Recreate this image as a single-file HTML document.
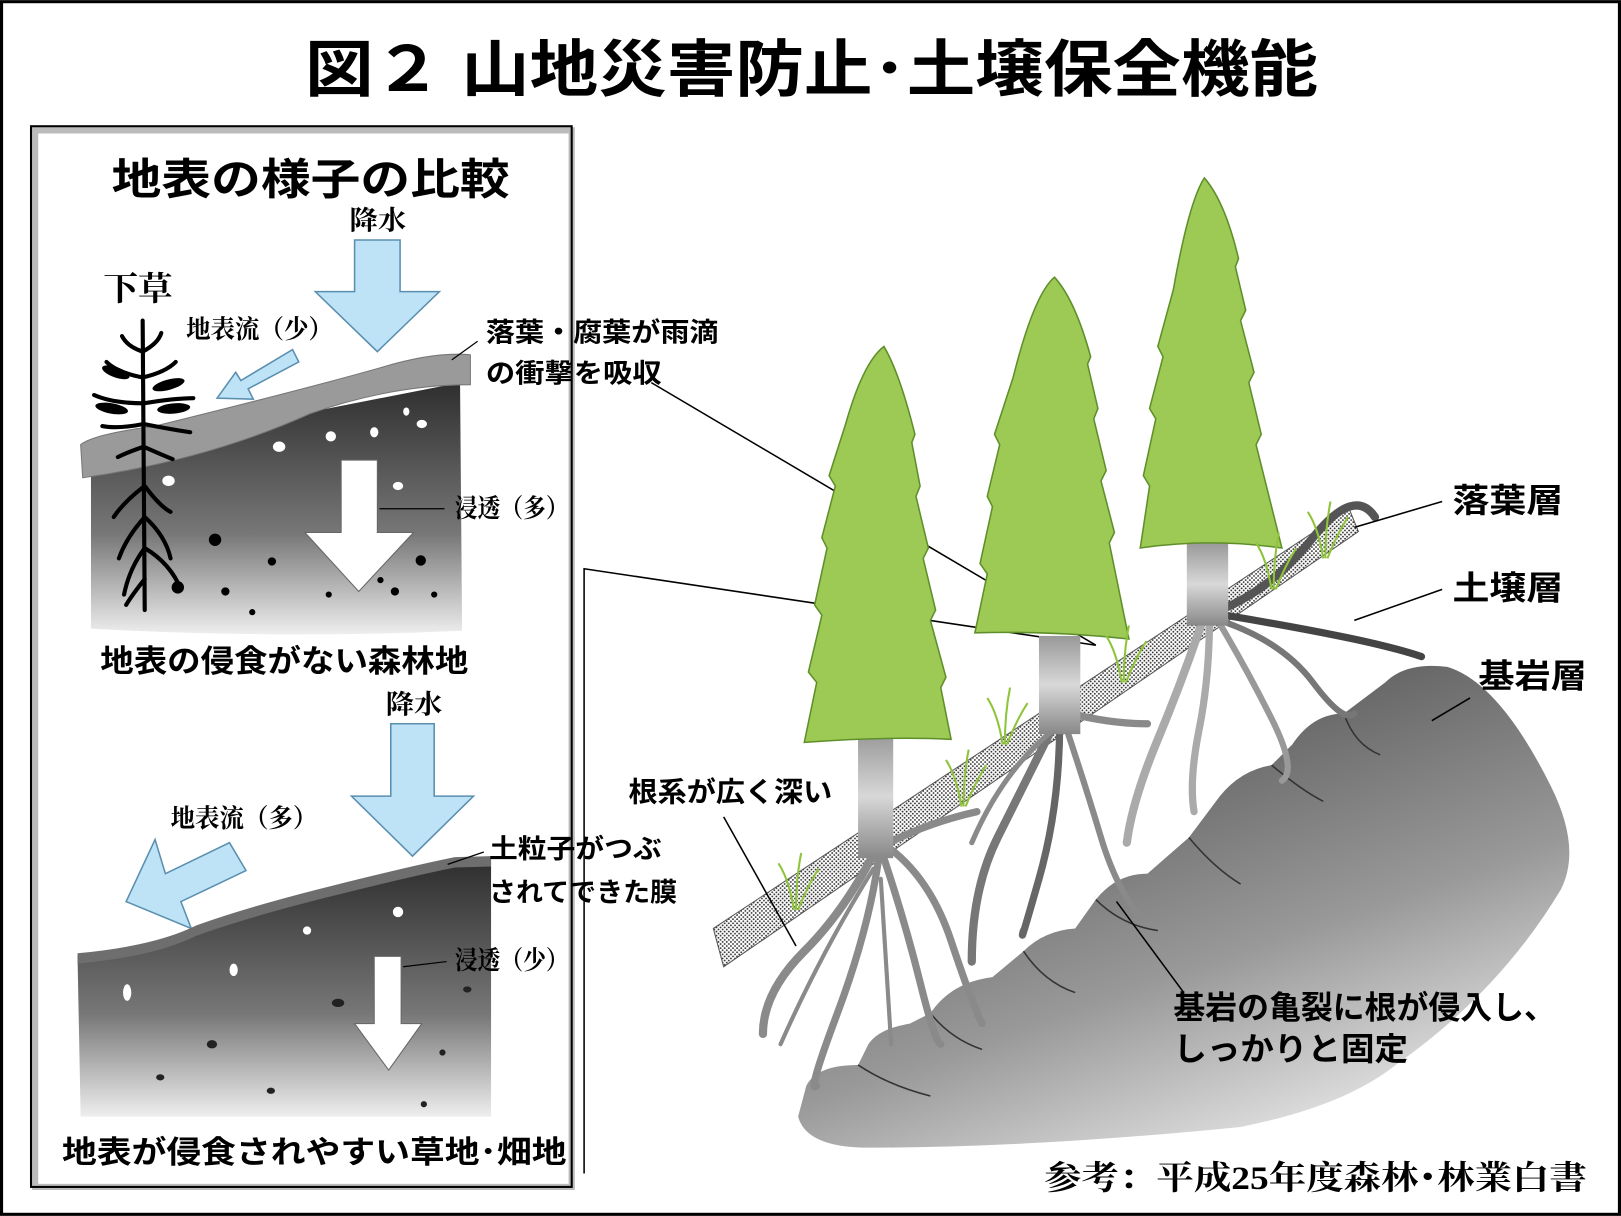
<!DOCTYPE html>
<html><head><meta charset="utf-8"><style>
html,body{margin:0;padding:0;background:#fff;}
svg{display:block;}
.g{font-family:"Liberation Sans","Noto Sans CJK JP",sans-serif;font-weight:bold;}
.m{font-family:"Liberation Serif","Noto Serif CJK SC",serif;font-weight:bold;}
</style></head><body>
<svg width="1621" height="1216" viewBox="0 0 1568 1176" xmlns="http://www.w3.org/2000/svg">
<defs>
<linearGradient id="soil" x1="0" y1="0" x2="0" y2="1"><stop offset="0" stop-color="#2e2e2e"/><stop offset="0.6" stop-color="#777"/><stop offset="1" stop-color="#eee"/></linearGradient>
<linearGradient id="rock" x1="0.3" y1="0.1" x2="0.8" y2="1"><stop offset="0" stop-color="#555"/><stop offset="0.55" stop-color="#999"/><stop offset="1" stop-color="#f4f4f4"/></linearGradient>
<linearGradient id="trunk" x1="0" y1="0" x2="0" y2="1"><stop offset="0" stop-color="#999"/><stop offset="0.5" stop-color="#d8d8d8"/><stop offset="1" stop-color="#888"/></linearGradient>
<pattern id="dots" width="4" height="4" patternUnits="userSpaceOnUse"><rect width="4" height="4" fill="#fff"/><circle cx="1" cy="1" r="0.9" fill="#333"/><circle cx="3" cy="3" r="0.9" fill="#333"/></pattern>
</defs>
<rect x="1.5" y="1.5" width="1565" height="1173" fill="#fff" stroke="#000" stroke-width="3"/>
<text x="295" y="88" class="g" font-size="60" textLength="980" lengthAdjust="spacingAndGlyphs">図２ 山地災害防止･土壌保全機能</text>

<!-- left panel -->
<rect x="34" y="126" width="519" height="1022" fill="none" stroke="#bbb" stroke-width="6"/>
<rect x="30" y="122" width="523" height="1026" fill="none" stroke="#000" stroke-width="2"/>
<text x="108" y="188" class="g" font-size="42" textLength="385" lengthAdjust="spacingAndGlyphs">地表の様子の比較</text>
<text x="338" y="222" class="m" font-size="26" textLength="55" lengthAdjust="spacingAndGlyphs">降水</text>
<polygon points="343,232 387,232 387,282 425,282 365,340 305,282 343,282" fill="#bfe3f6" stroke="#5a8fb0" stroke-width="1.5"/>
<text x="100" y="290" class="m" font-size="32" textLength="67" lengthAdjust="spacingAndGlyphs">下草</text>
<text x="180" y="327" class="m" font-size="25" textLength="142" lengthAdjust="spacingAndGlyphs">地表流（少）</text>
<polygon points="283,338 289,350 240,376 245,386 210,385 228,360 233,368" fill="#bfe3f6" stroke="#5a8fb0" stroke-width="1.5"/>
<!-- forest ground -->
<path d="M88,440 L445,370 L447,610 Q270,618 88,608 Z" fill="url(#soil)"/>
<path d="M78,430 Q90,420 150,412 Q300,375 370,355 Q420,340 455,343 L455,372 Q380,372 300,400 Q200,445 80,462 Z" fill="#9a9a9a" stroke="#777"/>
<g fill="#fff"><ellipse cx="270" cy="432" rx="6" ry="5"/><ellipse cx="320" cy="422" rx="5" ry="5"/><ellipse cx="362" cy="418" rx="4" ry="5"/><ellipse cx="408" cy="410" rx="5" ry="4"/><ellipse cx="393" cy="398" rx="3" ry="4"/><ellipse cx="385" cy="470" rx="5" ry="4"/><ellipse cx="163" cy="465" rx="6" ry="5"/></g>
<g fill="#000"><circle cx="208" cy="522" r="6"/><circle cx="263" cy="543" r="4"/><circle cx="218" cy="572" r="4"/><circle cx="407" cy="542" r="5"/><circle cx="368" cy="561" r="3"/><circle cx="382" cy="572" r="4"/><circle cx="318" cy="575" r="3"/><circle cx="244" cy="592" r="3"/><circle cx="420" cy="575" r="3"/><circle cx="172" cy="568" r="6"/></g>
<polygon points="330,445 365,445 365,515 400,515 347,572 295,515 330,515" fill="#fff" stroke="#666" stroke-width="1"/>
<line x1="367" y1="492" x2="430" y2="492" stroke="#000" stroke-width="1.2"/>
<text x="440" y="500" class="m" font-size="25" textLength="110" lengthAdjust="spacingAndGlyphs">浸透（多）</text>
<!-- plant -->
<g stroke="#000" fill="none" stroke-width="4" stroke-linecap="round">
<path d="M138,310 L140,590"/>
<path d="M138,340 q-15,-5 -20,-15 M138,340 q15,-8 18,-18 M138,365 q-25,-5 -35,-15 M138,365 q22,-5 32,-15 M139,390 q-30,0 -48,-8 M139,390 q30,-5 48,-5 M139,410 q-25,5 -40,2 M139,410 q25,5 45,8 M139,432 q-15,5 -25,10 M139,432 q18,8 28,12"/>
<path d="M140,470 q-20,15 -30,30 M140,470 q15,20 25,25 M140,500 q-18,20 -25,40 M140,500 q20,18 25,40 M140,530 q-15,20 -20,45 M140,530 q25,15 35,40 M140,560 q-12,15 -18,25"/>
</g>
<g fill="#000"><ellipse cx="112" cy="360" rx="14" ry="5" transform="rotate(20 112 360)"/><ellipse cx="163" cy="372" rx="16" ry="5" transform="rotate(-15 163 372)"/><ellipse cx="108" cy="395" rx="16" ry="5" transform="rotate(10 108 395)"/><ellipse cx="168" cy="395" rx="16" ry="5" transform="rotate(-5 168 395)"/></g>
<text x="97" y="650" class="g" font-size="30" textLength="356" lengthAdjust="spacingAndGlyphs">地表の侵食がない森林地</text>
<text x="470" y="330" class="g" font-size="26" textLength="225" lengthAdjust="spacingAndGlyphs">落葉・腐葉が雨滴</text>
<text x="470" y="370" class="g" font-size="26" textLength="170" lengthAdjust="spacingAndGlyphs">の衝撃を吸収</text>
<line x1="437" y1="348" x2="462" y2="330" stroke="#000" stroke-width="1.2"/>
<!-- grass land -->
<text x="373" y="690" class="m" font-size="26" textLength="55" lengthAdjust="spacingAndGlyphs">降水</text>
<polygon points="378,700 420,700 420,770 458,770 399,828 340,770 378,770" fill="#bfe3f6" stroke="#5a8fb0" stroke-width="1.5"/>
<text x="165" y="800" class="m" font-size="25" textLength="142" lengthAdjust="spacingAndGlyphs">地表流（多）</text>
<polygon points="238,842 222,815 160,845 150,812 122,872 185,898 175,872" fill="#bfe3f6" stroke="#5a8fb0" stroke-width="1.5"/>
<path d="M75,925 Q150,918 190,898 Q240,880 320,860 Q400,840 440,832 L475,832 L475,1080 L78,1080 Z" fill="url(#soil)"/>
<path d="M75,922 Q150,915 190,895 Q240,877 320,857 Q400,837 440,829 L475,828 L475,838 L440,839 Q400,847 320,867 Q240,887 190,905 Q150,925 75,932 Z" fill="#6e6e6e"/>
<g fill="#fff"><ellipse cx="385" cy="882" rx="5" ry="5"/><ellipse cx="297" cy="900" rx="4" ry="4"/><ellipse cx="226" cy="938" rx="4" ry="6"/><ellipse cx="123" cy="960" rx="4" ry="8"/></g>
<g fill="#222"><ellipse cx="327" cy="970" rx="6" ry="4"/><ellipse cx="452" cy="957" rx="4" ry="3"/><ellipse cx="205" cy="1010" rx="5" ry="4"/><ellipse cx="155" cy="1042" rx="4" ry="3"/><ellipse cx="262" cy="1055" rx="4" ry="3"/><ellipse cx="428" cy="1018" rx="3" ry="3"/><ellipse cx="410" cy="1068" rx="3" ry="3"/></g>
<polygon points="362,925 388,925 388,990 408,990 376,1035 343,990 362,990" fill="#fff" stroke="#666" stroke-width="1"/>
<line x1="390" y1="935" x2="432" y2="930" stroke="#000" stroke-width="1.2"/>
<text x="440" y="937" class="m" font-size="25" textLength="110" lengthAdjust="spacingAndGlyphs">浸透（少）</text>
<text x="473" y="830" class="g" font-size="26" textLength="167" lengthAdjust="spacingAndGlyphs">土粒子がつぶ</text>
<text x="473" y="872" class="g" font-size="26" textLength="182" lengthAdjust="spacingAndGlyphs">されてできた膜</text>
<line x1="433" y1="836" x2="468" y2="824" stroke="#000" stroke-width="1.2"/>
<text x="60" y="1125" class="g" font-size="30" textLength="488" lengthAdjust="spacingAndGlyphs">地表が侵食されやすい草地･畑地</text>

<!-- connector lines -->
<polyline points="565,1135 565,550 1060,624" fill="none" stroke="#000" stroke-width="1.5"/>
<line x1="630" y1="370" x2="1060" y2="624" stroke="#000" stroke-width="1.5"/>

<!-- right: bedrock -->
<path d="M780,1050 Q790,1030 830,1030 L840,1010 Q850,995 880,990 L900,980 Q920,950 960,945 L990,920 Q1010,900 1040,898 L1060,870 Q1080,845 1110,845 L1150,810 L1180,770 Q1200,745 1230,740 L1250,720 Q1270,690 1300,690 L1340,660 Q1360,640 1400,645 Q1450,660 1500,760 Q1530,820 1510,860 Q1450,960 1350,1030 Q1300,1070 1200,1090 Q1000,1110 840,1110 Q780,1110 772,1080 Z" fill="url(#rock)"/>
<g stroke="#333" fill="none" stroke-width="1.5"><path d="M830,1030 q30,20 70,30"/><path d="M900,980 q20,25 50,35"/><path d="M990,920 q20,30 50,40"/><path d="M1060,870 q25,25 60,30"/><path d="M1150,810 q25,30 50,45"/><path d="M1230,740 q30,25 50,35"/><path d="M1300,690 q10,30 35,40"/></g>
<!-- litter band -->
<path d="M690,898 L1305,492 L1314,514 L700,935 Z" fill="url(#dots)" stroke="#555" stroke-width="1"/>
<!-- roots -->
<g stroke="#8a8a8a" fill="none" stroke-linecap="round">
<path d="M848,820 q-30,60 -70,100 t-40,80" stroke-width="8"/><path d="M850,830 q-10,70 -40,150 t-20,70" stroke-width="7"/><path d="M855,830 q20,60 35,120 t20,60" stroke-width="7"/><path d="M860,820 q40,30 60,90 t30,80" stroke-width="7"/><path d="M860,815 q40,-20 85,-30" stroke-width="7"/><path d="M845,840 q-50,80 -90,170" stroke-width="4"/><path d="M852,850 q5,80 10,160" stroke-width="4"/>
<path d="M1020,700 q-30,60 -55,110 t-25,120" stroke-width="8" stroke="#777"/><path d="M1025,700 q0,80 -20,150 t-15,50" stroke-width="7" stroke="#666"/><path d="M1030,700 q20,60 35,110 t40,80" stroke-width="6"/><path d="M1035,690 q40,10 75,10" stroke-width="7"/><path d="M1020,705 q-50,40 -80,110" stroke-width="5"/>
<path d="M1165,595 q-20,60 -45,120 t-30,100" stroke-width="8" stroke="#aaa"/><path d="M1170,595 q0,60 -10,110 t-5,80" stroke-width="7" stroke="#aaa"/><path d="M1175,595 q30,50 55,100 t10,60" stroke-width="6" stroke="#999"/><path d="M1180,590 q50,-20 90,-70 t60,-20" stroke-width="8" stroke="#555"/><path d="M1185,595 q60,10 110,20 t80,20" stroke-width="7" stroke="#444"/><path d="M1180,600 q60,20 90,60 t40,30" stroke-width="6" stroke="#777"/>
</g>
<!-- trunks -->
<rect x="830" y="710" width="34" height="120" fill="url(#trunk)"/>
<rect x="1005" y="615" width="40" height="95" fill="url(#trunk)"/>
<rect x="1148" y="525" width="40" height="80" fill="url(#trunk)"/>
<!-- trees -->
<g fill="#9dc955" stroke="#5f8f2a" stroke-width="1.5">
<path d="M855,335 Q870,360 885,420 L882,428 L890,470 L886,480 L898,530 L893,540 L905,590 L900,600 L915,655 L910,665 L920,715 Q860,712 778,718 L790,660 L782,650 L795,595 L788,585 L800,530 L795,520 L808,470 L802,460 L818,410 Q835,350 855,335 Z"/>
<path d="M1020,268 Q1040,290 1055,345 L1052,352 L1062,395 L1058,405 L1070,455 L1065,465 L1078,515 L1073,525 L1092,618 Q1020,610 943,612 L955,555 L948,545 L960,490 L955,480 L967,430 L962,420 L980,365 Q1000,285 1020,268 Z"/>
<path d="M1165,172 Q1185,195 1198,250 L1195,258 L1205,300 L1200,310 L1213,360 L1208,370 L1220,420 L1215,430 L1240,530 Q1170,520 1103,530 L1112,470 L1106,460 L1118,405 L1112,395 L1125,345 L1120,335 L1135,280 Q1150,195 1165,172 Z"/>
</g>
<!-- grass -->
<g stroke="#8fc43a" stroke-width="2" fill="none">
<path d="M768,880 q-5,-30 -15,-45 M770,880 q0,-30 5,-55 M772,880 q10,-25 20,-40"/>
<path d="M930,780 q-5,-30 -15,-45 M932,780 q0,-30 5,-55 M934,780 q10,-25 20,-40"/>
<path d="M970,720 q-5,-30 -15,-45 M972,720 q0,-30 5,-55 M974,720 q10,-25 20,-40"/>
<path d="M1085,660 q-5,-30 -15,-45 M1087,660 q0,-30 5,-55 M1089,660 q10,-25 20,-40"/>
<path d="M1230,570 q-5,-30 -15,-45 M1232,570 q0,-30 5,-55 M1234,570 q10,-25 20,-40"/>
<path d="M1280,540 q-5,-30 -15,-45 M1282,540 q0,-30 5,-55 M1284,540 q10,-25 20,-40"/>
</g>
<!-- right labels -->
<text x="1405" y="495" class="g" font-size="32" textLength="107" lengthAdjust="spacingAndGlyphs">落葉層</text>
<text x="1405" y="580" class="g" font-size="32" textLength="107" lengthAdjust="spacingAndGlyphs">土壌層</text>
<text x="1430" y="665" class="g" font-size="32" textLength="105" lengthAdjust="spacingAndGlyphs">基岩層</text>
<g stroke="#000" stroke-width="1.5"><line x1="1395" y1="485" x2="1310" y2="510"/><line x1="1395" y1="570" x2="1310" y2="600"/><line x1="1422" y1="675" x2="1385" y2="697"/><line x1="700" y1="790" x2="770" y2="915"/><line x1="1080" y1="872" x2="1145" y2="960"/></g>
<text x="608" y="775" class="g" font-size="27" textLength="197" lengthAdjust="spacingAndGlyphs">根系が広く深い</text>
<text x="1135" y="985" class="g" font-size="31" textLength="370" lengthAdjust="spacingAndGlyphs">基岩の亀裂に根が侵入し、</text>
<text x="1135" y="1025" class="g" font-size="31" textLength="227" lengthAdjust="spacingAndGlyphs">しっかりと固定</text>
<text x="1010" y="1150" class="m" font-size="32" font-weight="normal" textLength="525" lengthAdjust="spacingAndGlyphs">参考：平成25年度森林･林業白書</text>
</svg>
</body></html>
